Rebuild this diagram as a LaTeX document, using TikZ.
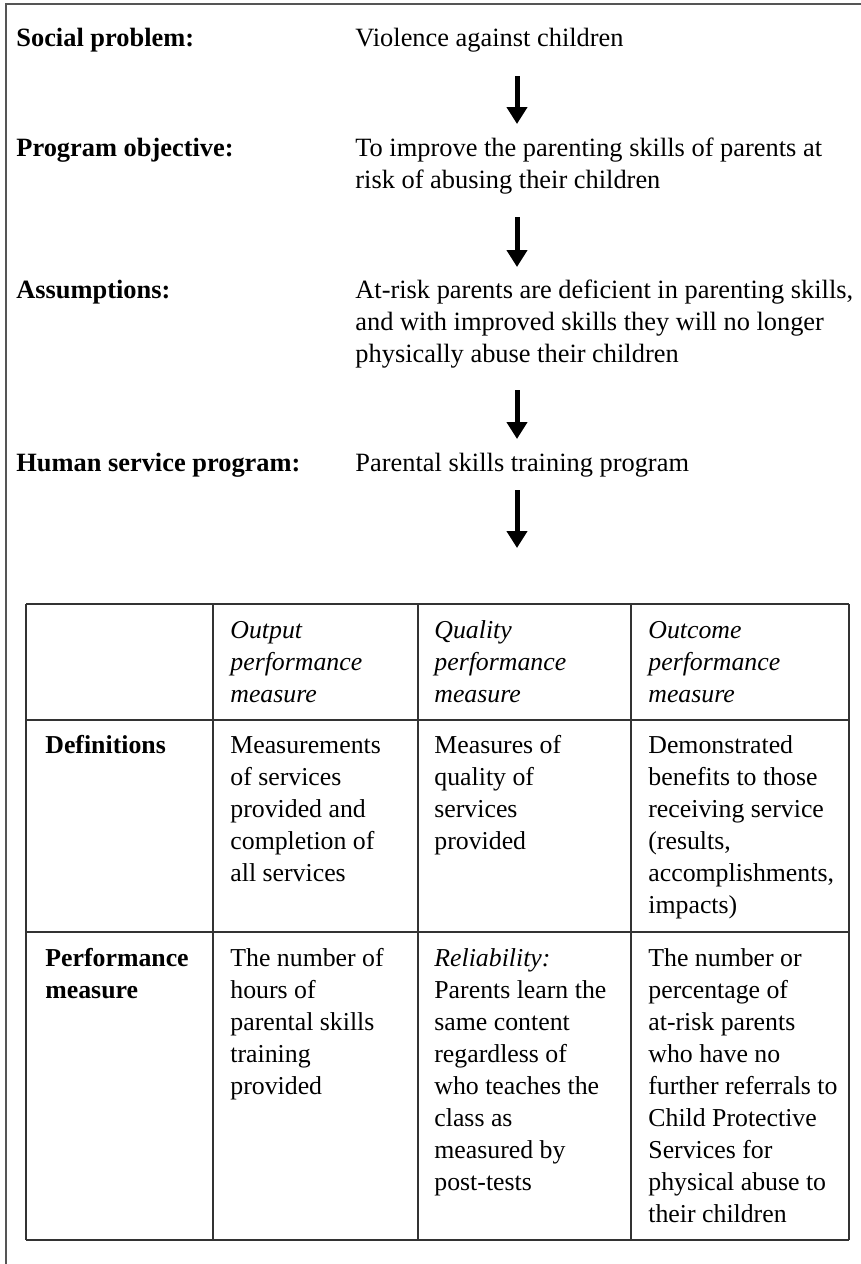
\documentclass[tikz,border=0pt]{standalone}
\usepackage{fontspec}
\setmainfont{Liberation Serif}
\usetikzlibrary{arrows.meta}

\begin{document}
\begin{tikzpicture}[x=0.5pt,y=-0.5pt,
  txt/.style={anchor=north west,inner sep=0pt,align=flush left,text width=270pt,yshift=11.2pt,
    execute at begin node=\strut,font=\fontsize{13.2}{16}\selectfont},
  lab/.style={txt,font=\fontsize{13.2}{16}\selectfont\bfseries},
  cell/.style={txt,font=\fontsize{12.9}{16}\selectfont},
  cellB/.style={txt,font=\fontsize{12.9}{16}\selectfont\bfseries},
  cellI/.style={txt,font=\fontsize{12.9}{16}\selectfont\itshape},
  flow/.style={line width=2.5pt,-{Triangle[width=10pt,length=8.5pt]}},
  rule/.style={draw=ruleGray,line width=0.75pt}]
\definecolor{frameGray}{HTML}{555555}
\definecolor{ruleGray}{HTML}{333333}
\path[use as bounding box] (0,0) rectangle (861,1264);
\draw[frameGray,line width=1pt] (6,1264) -- (6,4) -- (861,4);
% chain above the table
\node[lab] (socLab) at (16,46) {Social problem:};
\node[txt] (socTxt) at (355,46) {Violence against children};
\node[lab] (objLab) at (16,156) {Program objective:};
\node[txt] (objTxt) at (355,156) {To improve the parenting skills of parents at\\risk of abusing their children};
\node[lab] (assLab) at (16,298) {Assumptions:};
\node[txt] (assTxt) at (355,298) {At-risk parents are deficient in parenting skills,\\and with improved skills they will no longer\\physically abuse their children};
\node[lab] (hspLab) at (16,471) {Human service program:};
\node[txt] (hspTxt) at (355,471) {Parental skills training program};
\foreach \i/\ya/\yb in {1/76/124,2/217/267,3/390/439,4/490/548} {
  \coordinate (a\i s) at (517,\ya);
  \coordinate (a\i e) at (517,\yb);
  \draw[flow] (a\i s) -- (a\i e);
}
% table
\foreach \x in {26,213,418,631,849} \draw[rule] (\x,604) -- (\x,1240);
\foreach \y in {604,720,932,1240} \draw[rule] (26,\y) -- (849,\y);
\node[cellI] (h1) at (230,638) {Output\\performance\\measure};
\node[cellI] (h2) at (434,638) {Quality\\performance\\measure};
\node[cellI] (h3) at (648,638) {Outcome\\performance\\measure};
\node[cellB] (defLab) at (45,753) {Definitions};
\node[cell] (def1) at (230,753) {Measurements\\of services\\provided and\\completion of\\all services};
\node[cell] (def2) at (434,753) {Measures of\\quality of\\services\\provided};
\node[cell] (def3) at (648,753) {Demonstrated\\benefits to those\\receiving service\\(results,\\accomplishments,\\impacts)};
\node[cellB] (pmLab) at (45,966) {Performance\\measure};
\node[cell] (pm1) at (230,966) {The number of\\hours of\\parental skills\\training\\provided};
\node[cell] (pm2) at (434,966) {\textit{Reliability:}\\Parents learn the\\same content\\regardless of\\who teaches the\\class as\\measured by\\post-tests};
\node[cell] (pm3) at (648,966) {The number or\\percentage of\\at-risk parents\\who have no\\further referrals to\\Child Protective\\Services for\\physical abuse to\\their children};
\end{tikzpicture}
\end{document}
